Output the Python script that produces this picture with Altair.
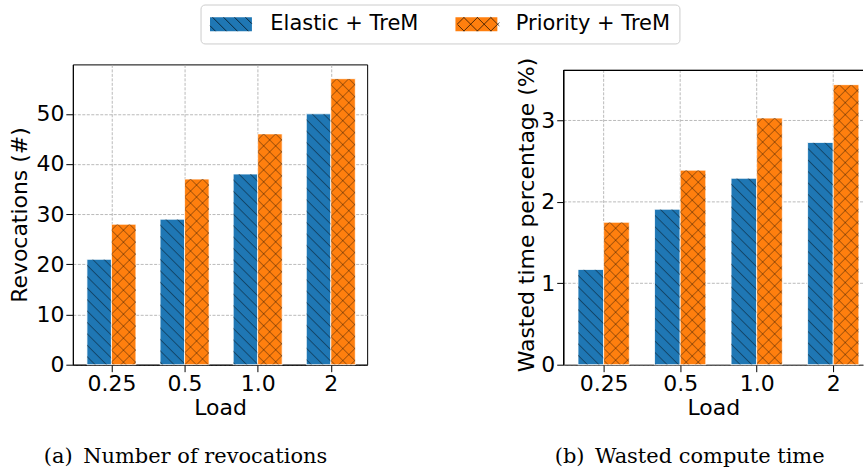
import base64
import json
import altair as alt
import pandas as pd

loads = ["0.25", "0.5", "1.0", "2"]
series = ["Elastic + TreM", "Priority + TreM"]
elastic_revocations = [21, 29, 38, 50]
priority_revocations = [28, 37, 46, 57]
elastic_wasted = [1.17, 1.91, 2.29, 2.73]
priority_wasted = [1.75, 2.39, 3.03, 3.44]
colors = ["#1f77b4", "#ff7f0e"]
rev_ticks = [0, 10, 20, 30, 40, 50]
waste_ticks = [0, 1, 2, 3]
rev_max = 59.85          # top of the left axis box
waste_max = 3.615        # top of the right axis box
waste_view_max = 3.689   # right scale top (box sits a little lower)
bar_width = 0.335        # in category units
left_xdomain = [-0.528, 3.497]
right_xdomain = [-0.522, 3.389]   # right panel is cut off at the page edge

rows = []
for i, load in enumerate(loads):
    for s, (rv, wv) in enumerate([(elastic_revocations[i], elastic_wasted[i]),
                                   (priority_revocations[i], priority_wasted[i])]):
        rows.append({"load": load, "idx": i, "sidx": s, "series": series[s],
                     "rev": rv, "waste": wv})
df = pd.DataFrame(rows)
idx_df = pd.DataFrame({"idx": list(range(len(loads)))})

SANS = "DejaVu Sans"
SERIF = "DejaVu Serif"
GRID = "#a8a8a8"


def svg_url(body, w):
    svg = ("<svg xmlns='http://www.w3.org/2000/svg' width='100%' height='100%'>"
           "<defs><pattern id='h' width='{w}' height='{w}' patternUnits='userSpaceOnUse' "
           "patternTransform='rotate(-45)'>{body}</pattern></defs>"
           "<rect width='100%' height='100%' fill='url(#h)'/></svg>").format(w=w, body=body)
    return "data:image/svg+xml;base64," + base64.b64encode(svg.encode()).decode()


hatch_back = svg_url("<line x1='4' y1='0' x2='4' y2='8.1' stroke='black' "
                     "stroke-opacity='0.5' stroke-width='0.8'/>", 8.1)
hatch_cross = svg_url("<path d='M4.25,0V8.5M0,4.25H8.5' stroke='black' "
                      "stroke-opacity='0.4' stroke-width='0.8'/>", 8.5)
hatches = [hatch_back, hatch_cross]

# legend swatch: a 4.2 x 1.4 box in symbol units
SW = (-1.0, 3.2, -0.7, 0.7)
swatch_path = "M{0},{2}L{1},{2}L{1},{3}L{0},{3}Z".format(*SW)


def hatch_lines(spacing, dirs, box=SW):
    x0, x1, y0, y1 = box
    parts = []
    for d in dirs:
        if d > 0:   # "\" lines: y = x - c
            lo, hi = x0 - y1, x1 - y0
        else:       # "/" lines: y = c - x
            lo, hi = x0 + y0, x1 + y1
        c = lo + spacing / 2
        while c < hi:
            if d > 0:
                a, b = max(x0, y0 + c), min(x1, y1 + c)
                ya, yb = a - c, b - c
            else:
                a, b = max(x0, c - y1), min(x1, c - y0)
                ya, yb = c - a, c - b
            if b - a > 0.05:
                parts.append(f"M{a:.3f},{ya:.3f}L{b:.3f},{yb:.3f}")
            c += spacing
    return "".join(parts)


legend_hatch_paths = [hatch_lines(1.1, [1]), hatch_lines(1.35, [1, -1])]

label_expr = json.dumps(loads) + "[datum.value]"
LEG_POS = dict(orient="none", legendX=128, legendY=-60, direction="horizontal",
               title=None, padding=9, labelOffset=40, columnPadding=36,
               labelFontSize=21, symbolSize=400)

color = alt.Color(
    "series:N", sort=series,
    scale=alt.Scale(domain=series, range=colors),
    legend=alt.Legend(symbolType=swatch_path, symbolStrokeWidth=0,
                      symbolOpacity=1, fillColor="white",
                      strokeColor="#cccccc", cornerRadius=4, zindex=0,
                      **LEG_POS),
)
# separate (data-driven domain) legend that only draws the hatch lines
hatch_shape = alt.Shape(
    "series_hatch:N", sort=series,
    scale=alt.Scale(range=legend_hatch_paths),
    legend=alt.Legend(symbolFillColor="transparent",
                      symbolStrokeColor="rgba(0,0,0,0.75)",
                      symbolStrokeWidth=0.9, symbolOpacity=1, labelOpacity=0,
                      zindex=1, **LEG_POS),
)

caption_style = dict(orient="bottom", anchor="middle", frame="bounds",
                     font=SERIF, fontSize=21, fontWeight="normal",
                     color="black", offset=28)


def panel(field, title, ticks, ymax_box, yscale_max, xdomain, width, caption,
          dx, ytitle_pad, cut_right):
    xscale = alt.Scale(domain=xdomain, nice=False, zero=False)
    yscale = alt.Scale(domain=[0, yscale_max], nice=False)
    xaxis = alt.Axis(values=list(range(len(loads))), labelExpr=label_expr,
                     labelFlush=False, grid=not cut_right, titlePadding=3)
    yaxis = alt.Axis(values=ticks, grid=not cut_right, domain=not cut_right,
                     titlePadding=ytitle_pad)
    xt, yt = "Load", title
    base = alt.Chart(df).transform_calculate(
        x0=f"datum.idx + (datum.sidx - 1) * {bar_width}",
        x1=f"datum.idx + datum.sidx * {bar_width}",
    )
    x0 = alt.X("x0:Q", title=xt, scale=xscale, axis=xaxis)
    x1 = alt.X2("x1:Q")
    y = alt.Y(f"{field}:Q", title=yt, scale=yscale, axis=yaxis)
    y_zero = alt.Y2Datum(0)

    layers = []
    if cut_right:
        dash = dict(color=GRID, strokeDash=[3, 1.5], strokeWidth=0.8)
        layers.append(alt.Chart(pd.DataFrame({field: ticks})).mark_rule(
            **dash).encode(y=y))
        layers.append(alt.Chart(idx_df).mark_rule(**dash).encode(
            x=alt.X("idx:Q", title=xt, scale=xscale, axis=xaxis),
            y=alt.YDatum(0, title=yt, scale=yscale, axis=yaxis),
            y2=alt.Y2Datum(ymax_box)))
    layers.append(base.mark_bar(stroke="white", strokeWidth=0.8).encode(
        x=x0, x2=x1, y=y, y2=y_zero, color=color))
    for s, url in zip(range(len(series)), hatches):
        layers.append(base.transform_filter(alt.datum.sidx == s).mark_image(
            aspect=False).encode(
            x=x0, x2=x1, y=y, y2=y_zero, url=alt.value(url)))
    if cut_right:
        frame = dict(color="black", strokeWidth=1)
        layers.append(alt.Chart(idx_df).mark_rule(**frame).encode(
            y=alt.YDatum(ymax_box, title=yt, scale=yscale, axis=yaxis)))
        layers.append(alt.Chart(idx_df).mark_rule(**frame).encode(
            x=alt.XDatum(xdomain[0], title=xt, scale=xscale, axis=xaxis),
            y=alt.YDatum(0, title=yt, scale=yscale, axis=yaxis),
            y2=alt.Y2Datum(ymax_box)))
    else:
        # invisible layer that only carries the hatch overlay of the legend
        layers.append(base.transform_calculate(
            series_hatch="datum.series").mark_point(opacity=0).encode(
            x=x0, y=y, shape=hatch_shape))
    ch = alt.layer(*layers).properties(
        width=width, height=301,
        title=alt.TitleParams(caption, dx=dx, **caption_style))
    if cut_right:
        ch = ch.properties(view=alt.ViewBackground(strokeOpacity=0))
    return ch


left = panel("rev", "Revocations (#)", rev_ticks, rev_max, rev_max,
             left_xdomain, 295, "(a)\u2002Number of revocations", -2.5, 4,
             False)
right = panel("waste", "Wasted time percentage (%)", waste_ticks, waste_max,
              waste_view_max, right_xdomain, 300,
              "(b)\u2002Wasted compute time", 0, 2, True)

chart = alt.hconcat(left, right, spacing=148).properties(
    padding={"left": 8, "top": 3, "right": 0, "bottom": 0},
    background="white",
).configure_view(
    stroke="black", strokeWidth=1,
).configure_axis(
    labelFont=SANS, titleFont=SANS, labelFontSize=22, titleFontSize=22,
    titleFontWeight="normal", labelColor="black", titleColor="black",
    tickColor="black", tickSize=7, tickWidth=1, domainColor="black",
    gridColor=GRID, gridDash=[3, 1.5], gridWidth=0.8, labelPadding=2,
).configure_legend(
    labelFont=SANS, labelColor="black", labelLimit=400,
)

chart.save("out.html", embed_options={"renderer": "svg", "actions": False})
